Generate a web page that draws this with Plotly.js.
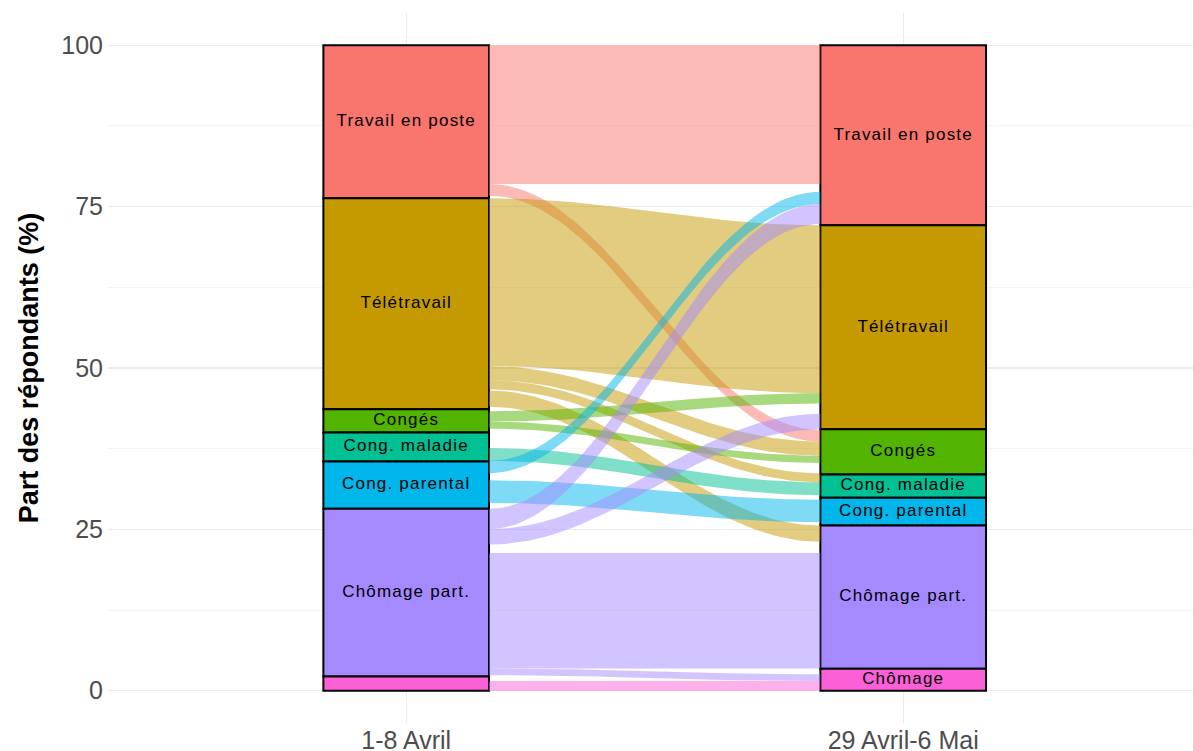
<!DOCTYPE html>
<html>
<head>
<meta charset="utf-8">
<script src="https://cdn.plot.ly/plotly-3.0.1.min.js"></script>
<style>
  body { margin: 0; background: #fff; }
  #chart .textpoint text { letter-spacing: 1.2px; }
</style>
</head>
<body>
<div id="chart" style="width:1193px;height:751px;"></div>
<script>
// categories
let strata = ['Travail en poste', 'Télétravail', 'Congés', 'Cong. maladie', 'Cong. parental', 'Chômage part.', 'Chômage'];
let waves = ['1-8 Avril', '29 Avril-6 Mai'];
let colors = ['#F8766D', '#C49A00', '#53B400', '#00C094', '#00B6EB', '#A58AFF', '#FB61D7'];

// share of respondents in each situation (%)
let shareAvril = [23.7, 32.7, 3.6, 4.5, 7.3, 26.0, 2.2];
let shareMai = [27.9, 31.6, 7.0, 3.6, 4.3, 22.2, 3.4];

// transitions from each april situation to the may situations (% of respondents)
let fromTravail = [21.5, 0, 1.8, 0, 0, 0.2, 0.2];
let fromTeletravail = [0, 26.0, 2.2, 1.4, 0.2, 2.5, 0.4];
let fromConges = [0.3, 1.6, 1.1, 0, 0, 0.8, 0.2];
let fromMaladie = [0.9, 0.8, 0.3, 2.0, 0, 0, 0];
let fromParental = [1.9, 0.8, 0.1, 0.2, 3.5, 0.95, 0];
let fromChomagePart = [3.1, 2.4, 0.9, 0.2, 0.2, 17.9, 1.05];
let fromChomage = [0.2, 0.1, 0.3, 0.1, 0.1, 0.1, 1.5];

let flows = [fromTravail, fromTeletravail, fromConges, fromMaladie, fromParental, fromChomagePart, fromChomage];
let minShown = 1;     // smaller transitions are not drawn
let minLabel = 3;     // strata smaller than this get no label

let w = 1 / 3;
let k = 0.25;
let n = strata.length;

function rgba(hex, a) {
  let r = parseInt(hex.slice(1, 3), 16), g = parseInt(hex.slice(3, 5), 16), b = parseInt(hex.slice(5, 7), 16);
  return 'rgba(' + r + ',' + g + ',' + b + ',' + a + ')';
}

// top of every flow on each side, stacked like ggalluvial
let topLeft = [], topRight = [];
let y = 100;
for (let i = 0; i < n; i++) {
  topLeft.push([]);
  for (let j = 0; j < n; j++) { topLeft[i].push(y); y -= flows[i][j]; }
}
y = 100;
for (let j = 0; j < n; j++) {
  for (let i = 0; i < n; i++) {
    if (!topRight[i]) topRight[i] = [];
    topRight[i][j] = y; y -= flows[i][j];
  }
}

function curve(y0, y1) {
  let x0 = 1 + w / 2, x1 = 2 - w / 2;
  let xs = [], ys = [];
  for (let s = 0; s <= 60; s++) {
    let t = s / 60, u = 1 - t;
    let b0 = u * u * u, b1 = 3 * u * u * t, b2 = 3 * u * t * t, b3 = t * t * t;
    xs.push(b0 * x0 + b1 * (x0 + k) + b2 * (x1 - k) + b3 * x1);
    ys.push(b0 * y0 + b1 * y0 + b2 * y1 + b3 * y1);
  }
  return [xs, ys];
}

let traces = [];

for (let i = 0; i < n; i++) {
  for (let j = 0; j < n; j++) {
    let v = flows[i][j];
    if (v < minShown) continue;
    let top = curve(topLeft[i][j], topRight[i][j]);
    let bot = curve(topLeft[i][j] - v, topRight[i][j] - v);
    traces.push({
      x: top[0].concat(bot[0].slice().reverse()),
      y: top[1].concat(bot[1].slice().reverse()),
      type: 'scatter',
      mode: 'lines',
      fill: 'toself',
      fillcolor: rgba(colors[i], 0.5),
      line: { width: 0 },
      hoverinfo: 'skip',
      showlegend: false
    });
  }
}

// strata
let labelX = [], labelY = [], labelText = [];
let cumA = 100, cumM = 100;
for (let i = 0; i < n; i++) {
  traces.push({
    x: [1, 2],
    y: [shareAvril[i], shareMai[i]],
    base: [cumA - shareAvril[i], cumM - shareMai[i]],
    width: w,
    type: 'bar',
    name: strata[i],
    marker: { color: colors[i], line: { color: '#000000', width: 2 } },
    hoverinfo: 'skip',
    showlegend: false
  });
  if (shareAvril[i] >= minLabel) {
    labelX.push(1); labelY.push(cumA - shareAvril[i] / 2); labelText.push(strata[i]);
  }
  if (shareMai[i] >= minLabel) {
    labelX.push(2); labelY.push(cumM - shareMai[i] / 2); labelText.push(strata[i]);
  }
  cumA -= shareAvril[i];
  cumM -= shareMai[i];
}

traces.push({
  x: labelX,
  y: labelY,
  text: labelText,
  type: 'scatter',
  mode: 'text',
  textposition: 'middle center',
  textfont: { family: 'Liberation Sans, Arial, sans-serif', size: 17, color: '#000000' },
  hoverinfo: 'skip',
  showlegend: false
});

let layout = {
  width: 1193,
  height: 751,
  margin: { l: 108, r: 0, t: 13, b: 28 },
  paper_bgcolor: '#ffffff',
  plot_bgcolor: '#ffffff',
  barmode: 'overlay',
  showlegend: false,
  font: { family: 'Liberation Sans, Arial, sans-serif', color: '#4D4D4D' },
  xaxis: {
    range: [0.4, 0.4 + 1085 / 497],
    tickvals: [1, 2],
    ticktext: waves,
    ticks: '',
    tickfont: { size: 25, color: '#4D4D4D' },
    showgrid: true,
    gridcolor: '#EBEBEB',
    gridwidth: 1.1,
    zeroline: false,
    showline: false,
    fixedrange: true
  },
  yaxis: {
    range: [-5, 105],
    tickvals: [0, 25, 50, 75, 100],
    ticks: '',
    ticklabelstandoff: 4,
    tickfont: { size: 25, color: '#4D4D4D' },
    showgrid: true,
    gridcolor: '#EBEBEB',
    gridwidth: 1.1,
    minor: { tickmode: 'array', tickvals: [12.5, 37.5, 62.5, 87.5], showgrid: true, gridcolor: '#F1F1F1', gridwidth: 0.7 },
    zeroline: false,
    showline: false,
    title: { text: '<b>Part des répondants (%)</b>', font: { size: 27, color: '#000000' }, standoff: 14 },
    automargin: false,
    fixedrange: true
  }
};

Plotly.newPlot('chart', traces, layout, { displayModeBar: false, staticPlot: true });
</script>
</body>
</html>
